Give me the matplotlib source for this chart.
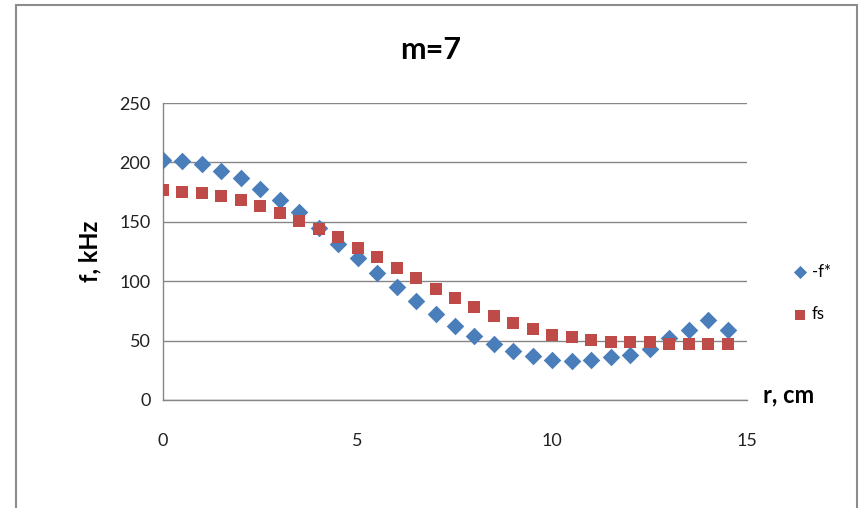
import matplotlib
matplotlib.use("Agg")
import matplotlib.pyplot as plt
from matplotlib.patches import Rectangle

# radius, cm
r = [0, 0.5, 1, 1.5, 2, 2.5, 3, 3.5, 4, 4.5, 5, 5.5, 6, 6.5, 7,
     7.5, 8, 8.5, 9, 9.5, 10, 10.5, 11, 11.5, 12, 12.5, 13, 13.5, 14, 14.5]
# -f*, kHz
f_star = [202, 201.5, 199, 193, 187, 178, 168.5, 158.5, 145, 131.5, 119.5, 107, 95, 83, 72.5,
          62, 54, 47, 41.5, 37, 34, 33, 34, 36, 38, 43, 52, 59, 67, 59]
# fs, kHz
fs = [176.5, 175.5, 174.5, 171.5, 168, 163, 157.5, 151, 144, 137, 128, 120, 111, 103, 93.5,
      86, 78, 71, 64.5, 59.5, 55, 53, 50.5, 49, 48.5, 48.5, 47.5, 47.5, 47.5, 47.5]

plt.rcParams['font.family'] = ['Lato', 'DejaVu Sans']

W, H = 860, 508
fig = plt.figure(figsize=(W / 100, H / 100), dpi=100)
ax = fig.add_axes([163 / W, 1 - 400 / H, (747 - 163) / W, (400 - 103) / H])

ax.scatter(r, f_star, marker='D', s=80, color='#4A7EBB', label='-f*', zorder=3, linewidths=0)
ax.scatter(r, fs, marker='s', s=85, color='#BE4B48', label='fs', zorder=3, linewidths=0)

ax.set_xlim(0, 15)
ax.set_ylim(0, 250)
ax.set_xticks([0, 5, 10, 15])
ax.set_yticks([0, 50, 100, 150, 200, 250])
ax.grid(axis='y', color='#868686', linewidth=1)
ax.set_axisbelow(True)
for s in ['top', 'right']:
    ax.spines[s].set_visible(False)
for s in ['left', 'bottom']:
    ax.spines[s].set_color('#868686')
    ax.spines[s].set_linewidth(1)
ax.tick_params(axis='y', length=0, pad=9, labelsize=13, colors='#222222')
ax.tick_params(axis='x', length=0, pad=24, labelsize=13, colors='#222222')

fig.text(431 / W, 1 - 50 / H, 'm=7', ha='center', va='center', fontsize=22, fontweight='bold')
fig.text(90 / W, 1 - 251 / H, 'f, kHz', ha='center', va='center', rotation=90,
         fontsize=17, fontweight='bold')
fig.text(763 / W, 1 - 395 / H, 'r, cm', ha='left', va='center', fontsize=17, fontweight='bold')

ax.legend(loc='center left', bbox_to_anchor=(775 / W, 1 - 293 / H), bbox_transform=fig.transFigure,
          frameon=False, fontsize=12, handletextpad=0.1, labelspacing=1.6, markerscale=0.75,
          handlelength=1.2)

fig.patches.append(Rectangle((16 / W, -0.05), (857 - 16) / W, 1.05 - 5 / H, transform=fig.transFigure,
                             fill=False, edgecolor='#8C8C8C', linewidth=1.5))

fig.savefig('out.png', dpi=100)
